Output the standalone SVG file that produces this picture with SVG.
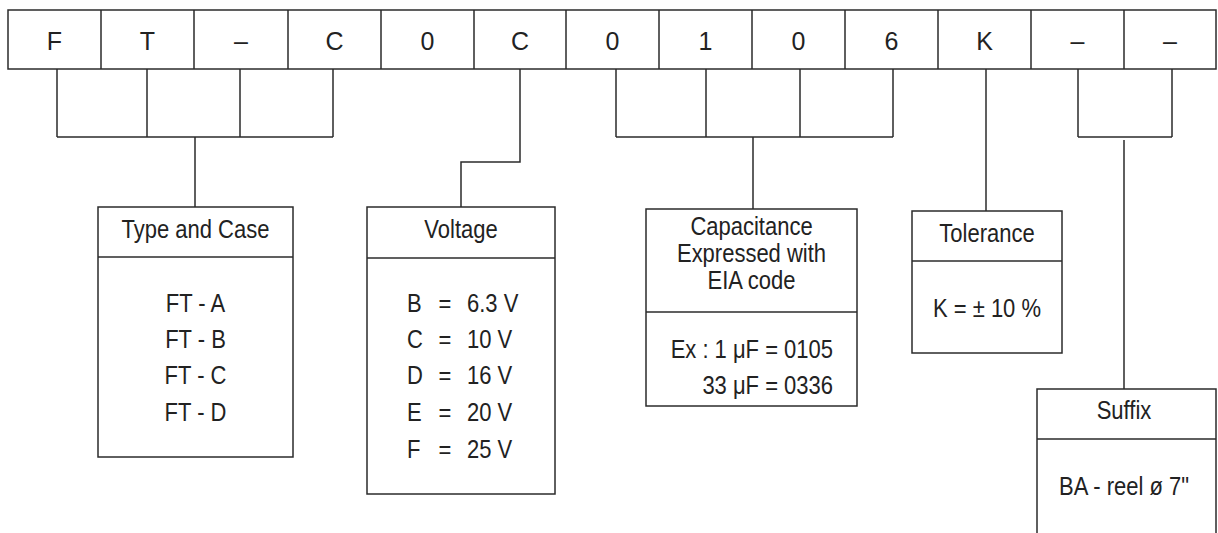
<svg xmlns="http://www.w3.org/2000/svg" width="1218" height="533" viewBox="0 0 1218 533">
<style>
.ln{fill:none;stroke:#2b2b2b;stroke-width:1.5}
.cell{font-family:"Liberation Sans",Arial,sans-serif;font-size:25px;fill:#222;text-anchor:middle}
.t{font-family:"Liberation Sans Narrow","Arial Narrow","Liberation Sans",sans-serif;font-size:25px;fill:#222;text-anchor:middle}
.s{text-anchor:start}
.e{text-anchor:end}
</style>
<rect width="1218" height="533" fill="#fff"/>
<g id="code">
<rect class="ln" x="8" y="10" width="1208" height="59"/>
<path class="ln" d="M101 10V69M194 10V69M288 10V69M381 10V69M474 10V69M566 10V69M659 10V69M752 10V69M845 10V69M938 10V69M1031 10V69M1124 10V69"/>
<text class="cell" x="54.5" y="50">F</text>
<text class="cell" x="147.5" y="50">T</text>
<text class="cell" x="241" y="50">–</text>
<text class="cell" x="334.5" y="50">C</text>
<text class="cell" x="427.5" y="50">0</text>
<text class="cell" x="520" y="50">C</text>
<text class="cell" x="612.5" y="50">0</text>
<text class="cell" x="705.5" y="50">1</text>
<text class="cell" x="798.5" y="50">0</text>
<text class="cell" x="891.5" y="50">6</text>
<text class="cell" x="984.5" y="50">K</text>
<text class="cell" x="1077.5" y="50">–</text>
<text class="cell" x="1170" y="50">–</text>
</g>
<g id="connectors">
<path class="ln" d="M57 69V137M147 69V137M240 69V137M333 69V137M57 137H333M195 137V207"/>
<path class="ln" d="M520 69V162H461V207"/>
<path class="ln" d="M616 69V137M706 69V137M800 69V137M893 69V137M616 137H893M753 137V209"/>
<path class="ln" d="M986 69V211"/>
<path class="ln" d="M1078 69V137M1172 69V137M1078 137H1172M1124 140V389"/>
</g>
<g id="type-and-case">
<rect class="ln" x="98" y="207" width="195" height="250"/>
<path class="ln" d="M98 257H293"/>
<g transform="translate(195.5 0) scale(0.88 1)">
<text class="t" x="0" y="238">Type and Case</text>
<text class="t" x="0" y="312">FT - A</text>
<text class="t" x="0" y="348">FT - B</text>
<text class="t" x="0" y="384">FT - C</text>
<text class="t" x="0" y="421">FT - D</text>
</g>
</g>
<g id="voltage">
<rect class="ln" x="367" y="207" width="188" height="287"/>
<path class="ln" d="M367 258H555"/>
<g transform="translate(461 0) scale(0.88 1)"><text class="t" x="0" y="238">Voltage</text></g>
<g transform="translate(407 0) scale(0.88 1)">
<text class="t s" x="0" y="312">B</text>
<text class="t s" x="0" y="348">C</text>
<text class="t s" x="0" y="384">D</text>
<text class="t s" x="0" y="421">E</text>
<text class="t s" x="0" y="458">F</text>
</g>
<g transform="translate(445 0) scale(0.88 1)">
<text class="t" x="0" y="312">=</text>
<text class="t" x="0" y="348">=</text>
<text class="t" x="0" y="384">=</text>
<text class="t" x="0" y="421">=</text>
<text class="t" x="0" y="458">=</text>
</g>
<g transform="translate(467 0) scale(0.88 1)">
<text class="t s" x="0" y="312">6.3 V</text>
<text class="t s" x="0" y="348">10 V</text>
<text class="t s" x="0" y="384">16 V</text>
<text class="t s" x="0" y="421">20 V</text>
<text class="t s" x="0" y="458">25 V</text>
</g>
</g>
<g id="capacitance">
<rect class="ln" x="646" y="209" width="211" height="197"/>
<path class="ln" d="M646 312H857"/>
<g transform="translate(751.5 0) scale(0.88 1)">
<text class="t" x="0" y="235">Capacitance</text>
<text class="t" x="0" y="262">Expressed with</text>
<text class="t" x="0" y="289">EIA code</text>
</g>
<g transform="translate(833 0) scale(0.88 1)">
<text class="t e" x="0" y="358">Ex : 1 μF = 0105</text>
<text class="t e" x="0" y="394">33 μF = 0336</text>
</g>
</g>
<g id="tolerance">
<rect class="ln" x="912" y="211" width="150" height="142"/>
<path class="ln" d="M912 261H1062"/>
<g transform="translate(987 0) scale(0.88 1)">
<text class="t" x="0" y="242">Tolerance</text>
<text class="t" x="0" y="317">K = ± 10 %</text>
</g>
</g>
<g id="suffix">
<path class="ln" d="M1037 533V389H1216V533M1037 439H1216"/>
<g transform="translate(1124 0) scale(0.88 1)">
<text class="t" x="0" y="419">Suffix</text>
<text class="t" x="0" y="495">BA - reel ø 7"</text>
</g>
</g>
</svg>
